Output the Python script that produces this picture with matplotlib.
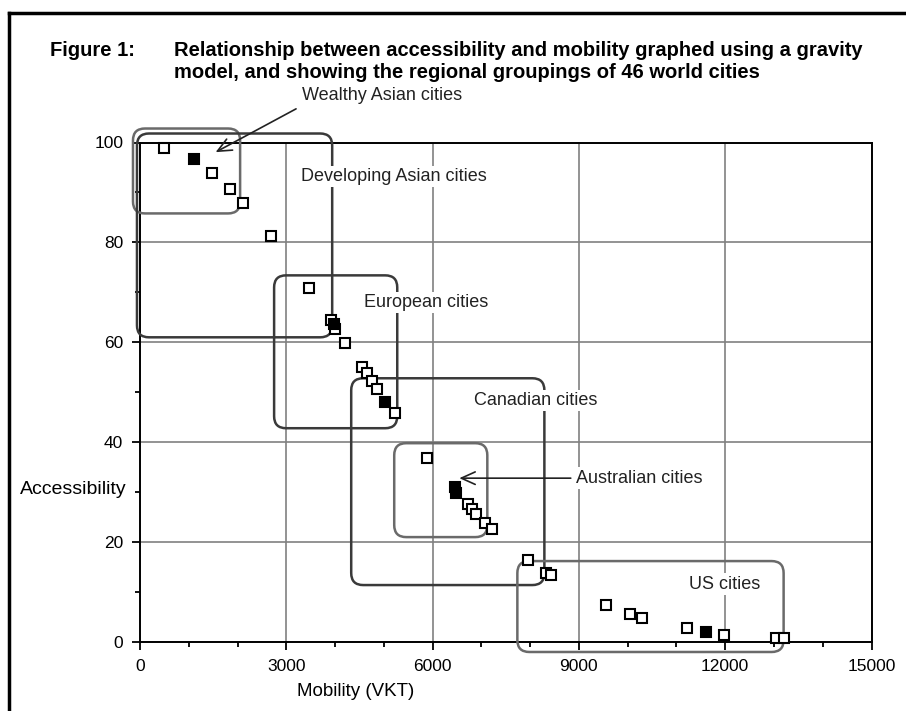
import matplotlib
matplotlib.use("Agg")
from matplotlib import pyplot as plt
from matplotlib.patches import FancyBboxPatch
from matplotlib.lines import Line2D
from matplotlib.ticker import MultipleLocator

plt.rcParams["font.family"] = ["Liberation Sans", "DejaVu Sans"]

# cities plotted as open squares (mobility VKT, accessibility)
open_x = [500, 1485, 1848, 2122, 2683, 3457, 3922, 4004, 4209, 4551, 4654, 4757, 4860,
          5236, 5886, 6721, 6811, 6899, 7084, 7221, 7953, 8330, 8419, 9555, 10041, 10287,
          11211, 11985, 13046, 13210]
open_y = [98.9, 93.9, 90.6, 87.9, 81.3, 70.9, 64.5, 62.7, 59.9, 55.1, 53.9, 52.2, 50.7,
          45.9, 36.9, 27.6, 26.7, 25.7, 23.9, 22.7, 16.4, 13.9, 13.4, 7.4, 5.6, 4.9,
          2.9, 1.5, 0.9, 0.9]
# overlapping cities (drawn as solid blobs)
dense_x = [1109, 3970, 5031, 6460, 6480, 11616]
dense_y = [96.7, 63.7, 48.1, 31.0, 29.8, 2.1]

# regional groupings: name, x0, x1, y0, y1, edge colour
groups = ["Wealthy Asian", "Developing Asian", "European", "Canadian", "Australian", "US"]
grp_x0 = [-144, -62, 2750, 4331, 5213, 7738]
grp_x1 = [2053, 3941, 5275, 8292, 7122, 13198]
grp_y0 = [85.8, 61.0, 42.8, 11.4, 21.0, -2.0]
grp_y1 = [102.8, 101.8, 73.4, 52.8, 39.8, 16.2]
grp_col = ["#6a6a6a", "#3a3a3a", "#3a3a3a", "#3a3a3a", "#6a6a6a", "#6a6a6a"]

# group labels (text, x, y) and arrow targets (None = no arrow)
lab_text = ["Wealthy Asian cities", "Developing Asian cities", "European cities",
            "Canadian cities", "Australian cities", "US cities"]
lab_x = [3330, 3300, 4600, 6850, 8950, 11250]
lab_y = [109.4, 93.2, 68.0, 48.4, 32.8, 11.6]
arrow_from = [(3250, 107.0), None, None, None, (8890, 32.8), None]
arrow_to = [(1500, 97.8), None, None, None, (6490, 32.8), None]

W, H = 906, 711
fig = plt.figure(figsize=(W / 100, H / 100), dpi=100)
ax = fig.add_axes([140 / W, 1 - 642 / H, (871.5 - 140) / W, (642 - 142.5) / H])

ax.set_xlim(0, 15000)
ax.set_ylim(0, 100)
ax.xaxis.set_major_locator(MultipleLocator(3000))
ax.xaxis.set_minor_locator(MultipleLocator(1000))
ax.yaxis.set_major_locator(MultipleLocator(20))
ax.yaxis.set_minor_locator(MultipleLocator(10))
ax.grid(True, which="major", color="#808080", lw=1.2, zorder=0)
ax.set_axisbelow(True)
ax.tick_params(which="major", direction="out", length=6, width=1.3, labelsize=12.5, pad=6)
ax.tick_params(which="minor", direction="out", length=3.5, width=1.3)
for s in ax.spines.values():
    s.set_linewidth(1.4)

# aspect correction so rounded corners look circular in pixels
bb = ax.get_position()
px_w, px_h = bb.width * W, bb.height * H
asp = (100 / px_h) / (15000 / px_w)
rad = 12 * 15000 / px_w

for i in range(len(groups)):
    box = FancyBboxPatch((grp_x0[i], grp_y0[i]), grp_x1[i] - grp_x0[i], grp_y1[i] - grp_y0[i],
                         boxstyle=f"round,pad=0,rounding_size={rad}", mutation_aspect=asp,
                         fc="none", ec=grp_col[i], lw=1.8, clip_on=False, zorder=3)
    ax.add_patch(box)

ax.plot(open_x, open_y, "s", ms=7, mfc="white", mec="black", mew=1.5, ls="none",
        clip_on=False, zorder=5)
ax.plot(dense_x, dense_y, "s", ms=7.5, mfc="black", mec="black", mew=1.5, ls="none",
        clip_on=False, zorder=5)

for i in range(len(lab_text)):
    ax.text(lab_x[i], lab_y[i], lab_text[i], fontsize=13, ha="left", va="center",
            color="#222222", zorder=6, clip_on=False,
            bbox=dict(fc="white", ec="none", pad=1.5))
    if arrow_from[i] is not None:
        ax.annotate("", xy=arrow_to[i], xytext=arrow_from[i],
                    arrowprops=dict(arrowstyle="->,head_length=1.0,head_width=0.45",
                                    color="#222222", lw=1.2), annotation_clip=False, zorder=6)

ax.set_xlabel("Mobility (VKT)", fontsize=13.5)
ax.xaxis.set_label_coords((356 - 140) / px_w, -(692 - 642) / px_h)
ax.xaxis.label.set_va("center")
ax.set_ylabel("Accessibility", fontsize=14, rotation=0, ha="right", va="center")
ax.yaxis.set_label_coords(-(140 - 127) / px_w, (642 - 490) / px_h)

fig.text(50 / W, 1 - 50 / H, "Figure 1:", fontsize=14.5, fontweight="bold", va="center")
fig.text(174 / W, 1 - 50 / H,
         "Relationship between accessibility and mobility graphed using a gravity",
         fontsize=14.5, fontweight="bold", va="center")
fig.text(174 / W, 1 - 72 / H,
         "model, and showing the regional groupings of 46 world cities",
         fontsize=14.5, fontweight="bold", va="center")

# page frame (left and top edges)
fig.add_artist(Line2D([9 / W, 9 / W], [0, 1 - 13 / H], color="black", lw=2.5))
fig.add_artist(Line2D([9 / W, 1], [1 - 13 / H, 1 - 13 / H], color="black", lw=2.5))

fig.savefig("out.png", dpi=100)
